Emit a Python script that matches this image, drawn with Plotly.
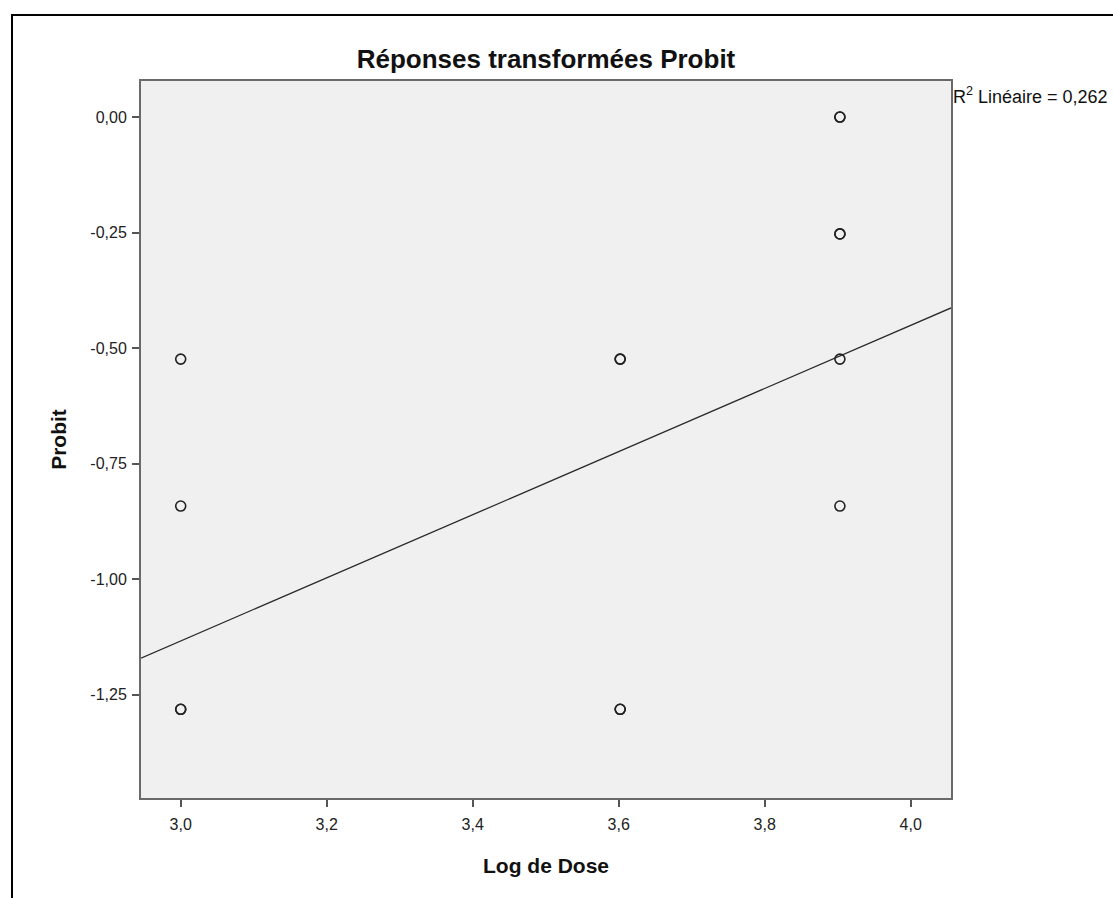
import plotly.graph_objects as go

# Log de Dose / Probit observations (repeated rows are replicate measurements)
log_dose = [3.0, 3.0, 3.0, 3.0,
            3.602, 3.602, 3.602, 3.602,
            3.903, 3.903, 3.903, 3.903, 3.903, 3.903]
probit = [-0.524, -0.842, -1.282, -1.282,
          -0.524, -0.524, -1.282, -1.282,
          0.0, 0.0, -0.253, -0.253, -0.524, -0.842]

# Linear fit: Probit = intercept + slope * Log de Dose
fit_intercept = -3.183
fit_slope = 0.683
r2_text = "R<sup>2</sup> Linéaire = 0,262"

x_range = [2.9456, 4.0552]
y_range = [-1.474, 0.078]

x_ticks = [3.0, 3.2, 3.4, 3.6, 3.8, 4.0]
x_tick_text = ["3,0", "3,2", "3,4", "3,6", "3,8", "4,0"]
y_ticks = [0.0, -0.25, -0.5, -0.75, -1.0, -1.25]
y_tick_text = ["0,00", "-0,25", "-0,50", "-0,75", "-1,00", "-1,25"]

fit_x = x_range
fit_y = [fit_intercept + fit_slope * v for v in fit_x]

FONT = "Liberation Sans, Arial, sans-serif"

fig = go.Figure()
fig.add_trace(go.Scatter(
    x=fit_x, y=fit_y, mode="lines",
    line=dict(color="#2b2b2b", width=1.3),
    hoverinfo="skip", showlegend=False,
))
fig.add_trace(go.Scatter(
    x=log_dose, y=probit, mode="markers",
    marker=dict(symbol="circle-open", size=10, color="#222222",
                line=dict(width=1.6, color="#222222")),
    showlegend=False,
))

W, H = 1113, 898
ml, mr, mt, mb = 141, 162, 81, 100
pw, ph = W - ml - mr, H - mt - mb


def px_to_paper_x(px):
    return (px - ml) / pw


def px_to_paper_y(py):
    return (H - mb - py) / ph


# outer frame around the whole chart (open to the right and bottom)
fig.add_shape(type="rect", xref="paper", yref="paper",
              x0=px_to_paper_x(12), x1=px_to_paper_x(1125),
              y0=px_to_paper_y(910), y1=px_to_paper_y(15),
              line=dict(color="#000000", width=2), fillcolor="rgba(0,0,0,0)",
              layer="above")

fig.add_annotation(
    xref="paper", yref="paper",
    x=px_to_paper_x(951), y=px_to_paper_y(95),
    xanchor="left", yanchor="middle",
    text=r2_text, showarrow=False,
    font=dict(family=FONT, size=18, color="#111111"),
)

axis_common = dict(
    showgrid=False, zeroline=False,
    showline=True, linecolor="#6a6a6a", linewidth=2, mirror=True,
    ticks="outside", ticklen=7, tickwidth=2, tickcolor="#555555",
    tickfont=dict(family=FONT, size=16, color="#222222"),
)

fig.update_layout(
    width=W, height=H,
    margin=dict(l=ml, r=mr, t=mt, b=mb, pad=0),
    paper_bgcolor="white", plot_bgcolor="#f0f0f0",
    title=dict(text="<b>Réponses transformées Probit</b>",
               x=px_to_paper_x(546), xref="paper", xanchor="center",
               y=1 - 59 / H, yref="container", yanchor="middle",
               font=dict(family=FONT, size=26, color="#111111")),
    xaxis=dict(range=x_range, tickvals=x_ticks, ticktext=x_tick_text,
               ticklabelstandoff=4,
               title=dict(text="<b>Log de Dose</b>", standoff=26,
                          font=dict(family=FONT, size=21, color="#111111")),
               **axis_common),
    yaxis=dict(range=y_range, tickvals=y_ticks, ticktext=y_tick_text,
               ticklabelstandoff=2,
               title=dict(text="<b>Probit</b>", standoff=18,
                          font=dict(family=FONT, size=21, color="#111111")),
               **axis_common),
)

fig.write_html("out.html")
